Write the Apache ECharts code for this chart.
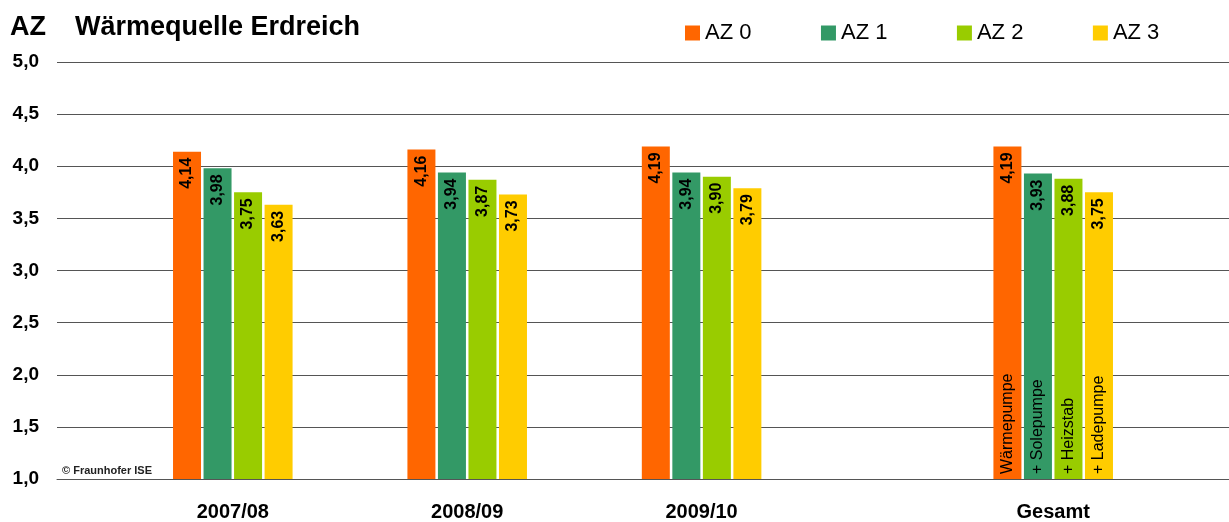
<!DOCTYPE html>
<html>
<head>
<meta charset="utf-8">
<script src="https://cdn.jsdelivr.net/npm/echarts@6/dist/echarts.min.js"></script>
<style>html,body{margin:0;padding:0;background:#fff}#c{width:1229px;height:522px}</style>
</head>
<body>
<div id="c"></div>
<script>
// Categories (empty slots give the spacing of the original chart)
const categories = ['', '2007/08', '', '2008/09', '', '2009/10', '', '', 'Gesamt', ''];
const seriesNames = ['AZ 0', 'AZ 1', 'AZ 2', 'AZ 3'];
const colors = ['#FF6600', '#339966', '#99CC00', '#FFCC00'];
const az0 = [null, 4.14, null, 4.16, null, 4.19, null, null, 4.19, null];
const az1 = [null, 3.98, null, 3.94, null, 3.94, null, null, 3.93, null];
const az2 = [null, 3.75, null, 3.87, null, 3.90, null, null, 3.88, null];
const az3 = [null, 3.63, null, 3.73, null, 3.79, null, null, 3.75, null];
const gesamtNames = ['Wärmepumpe', '+ Solepumpe', '+ Heizstab', '+ Ladepumpe'];
const yTicks = { min: 1, max: 5, interval: 0.5 };

const values = [az0, az1, az2, az3];
const font = 'Arial, "Liberation Sans", sans-serif';
const fmt = v => Number(v).toFixed(2).replace('.', ',');

const mainSeries = values.map((d, i) => ({
  name: seriesNames[i],
  type: 'bar',
  xAxisIndex: 0,
  data: d,
  barWidth: 28,
  barGap: '9%',
  itemStyle: { color: colors[i] },
  label: {
    show: true, position: 'insideTop', rotate: 90, distance: 6,
    align: 'right', verticalAlign: 'middle',
    formatter: p => fmt(p.value),
    fontFamily: font, fontWeight: 'bold', fontSize: 16, color: '#000'
  }
}));

const gIdx = categories.indexOf('Gesamt');
const overlaySeries = values.map((d, i) => ({
  name: 'overlay' + i,
  type: 'bar',
  xAxisIndex: 1,
  data: d.map((v, k) => k === gIdx ? v : null),
  barWidth: 28,
  barGap: '9%',
  silent: true,
  itemStyle: { color: 'rgba(0,0,0,0)' },
  label: {
    show: true, position: 'insideBottom', rotate: 90, distance: 5,
    align: 'left', verticalAlign: 'middle',
    formatter: () => gesamtNames[i],
    fontFamily: font, fontSize: 16, color: '#000'
  }
}));

const chart = echarts.init(document.getElementById('c'), null, { renderer: 'canvas' });
chart.setOption({
  animation: false,
  backgroundColor: '#fff',
  title: [
    { text: 'AZ', left: 10, top: 14, padding: 0, textStyle: { fontFamily: font, fontSize: 27, fontWeight: 'bold', color: '#000' } },
    { text: 'Wärmequelle Erdreich', left: 75, top: 14, padding: 0, textStyle: { fontFamily: font, fontSize: 27, fontWeight: 'bold', color: '#000' } },
    { text: '© Fraunhofer ISE', left: 62, top: 465, padding: 0, textStyle: { fontFamily: font, fontSize: 11, fontWeight: 'bold', color: '#222' } }
  ],
  legend: {
    data: seriesNames,
    left: 685, top: 22, padding: 0,
    icon: 'rect', itemWidth: 15, itemHeight: 15, itemGap: 69.5,
    textStyle: { fontFamily: font, fontSize: 22, color: '#000' }
  },
  grid: { left: 57, right: 0, top: 62, bottom: 40, containLabel: false },
  xAxis: [
    {
      type: 'category', data: categories,
      axisTick: { show: false },
      axisLine: { lineStyle: { color: '#555', width: 1 } },
      axisLabel: { interval: 0, margin: 23, fontFamily: font, fontSize: 20, fontWeight: 'bold', color: '#000' }
    },
    { type: 'category', data: categories, show: false, position: 'bottom' }
  ],
  yAxis: {
    type: 'value', min: yTicks.min, max: yTicks.max, interval: yTicks.interval,
    axisLine: { show: false }, axisTick: { show: false },
    splitLine: { lineStyle: { color: '#555', width: 1 } },
    axisLabel: { margin: 18, fontFamily: font, fontSize: 19, fontWeight: 'bold', color: '#000',
      formatter: v => v.toFixed(1).replace('.', ',') }
  },
  series: mainSeries.concat(overlaySeries)
});
</script>
</body>
</html>
